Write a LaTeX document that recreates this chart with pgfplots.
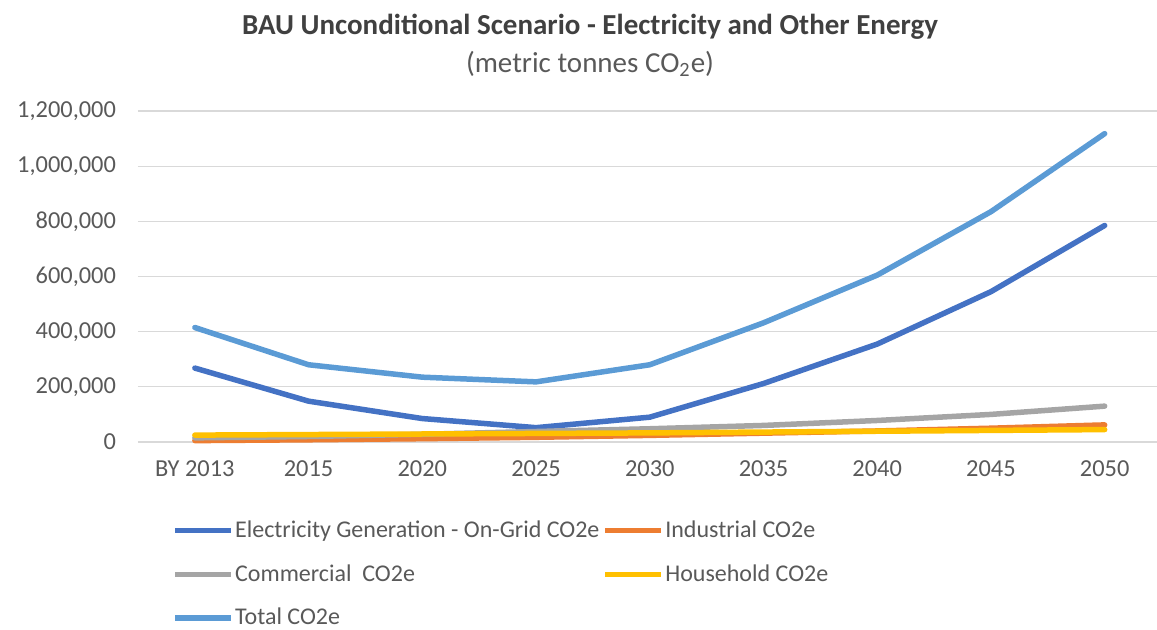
\documentclass[border=0pt]{standalone}
\usepackage{fontspec}
\setmainfont{Carlito}
\usepackage{pgfplots}
\pgfplotsset{compat=1.18}
\usepackage{pgfplotstable}

\definecolor{elec}{HTML}{4472C4}
\definecolor{indus}{HTML}{ED7D31}
\definecolor{comm}{HTML}{A5A5A5}
\definecolor{house}{HTML}{FFC000}
\definecolor{total}{HTML}{5B9BD5}
\definecolor{txt}{HTML}{595959}
\definecolor{gridc}{HTML}{D9D9D9}

% x: 0 = BY 2013, 1 = 2015, ... 8 = 2050
\pgfplotstableread{
x elec indus comm house total
0 268000 5000 15000 25000 415000
1 148000 8000 20000 27000 280000
2 85000 12000 28000 29000 235000
3 52000 17000 38000 31000 218000
4 90000 24000 48000 33000 280000
5 212000 32000 60000 36000 432000
6 355000 40000 78000 39000 605000
7 545000 50000 100000 42000 835000
8 785000 62000 130000 45000 1118000
}\bau

\begin{document}
\begin{tikzpicture}
\begin{axis}[
    scale only axis,
    width=509.5pt, height=165.5pt,
    xmin=-0.5, xmax=8.46,
    ymin=0, ymax=1200000,
    xtick={0,...,8},
    xticklabels={BY 2013,2015,2020,2025,2030,2035,2040,2045,2050},
    ytick={0,200000,...,1200000},
    scaled y ticks=false,
    /pgf/number format/.cd, fixed, 1000 sep={,}, assume math mode=true,
    /pgfplots/.cd,
    ymajorgrids,
    grid style={gridc, line width=0.6pt},
    axis line style={draw=none},
    tick style={draw=none},
    ticklabel style={font=\fontsize{12.2}{14}\selectfont, text=txt},
    yticklabel style={xshift=-7.5pt},
    xticklabel style={yshift=-6pt},
    clip=false,
    every axis plot/.append style={line width=2.75pt, line join=round, line cap=round},
    legend columns=2,
    legend cell align=left,
    legend style={
        at={(0.0334,-0.225)}, anchor=north west,
        draw=none, inner sep=0pt,
        font=\fontsize{12}{14}\selectfont, text=txt,
        nodes={inner xsep=0.6pt},
        row sep=8pt,
        /tikz/every even column/.append style={column sep=1pt},
    },
    legend image code/.code={
        \draw[#1, line cap=butt] (0pt,0pt) -- (28pt,0pt);
    },
]
\coordinate (sw) at (rel axis cs:0,0);
\addplot[elec] table[x=x, y=elec] {\bau};
\addlegendentry{Electricity Generation - On-Grid CO2e}
\addplot[indus] table[x=x, y=indus] {\bau};
\addlegendentry{Industrial CO2e}
\addplot[comm] table[x=x, y=comm] {\bau};
\addlegendentry{Commercial\ \ CO2e}
\addplot[house] table[x=x, y=house] {\bau};
\addlegendentry{Household CO2e}
\addplot[total] table[x=x, y=total] {\bau};
\addlegendentry{Total CO2e}
\end{axis}
\node[font=\bfseries\fontsize{14.5}{17}\selectfont, text=black!75] at ([shift={(226pt,207.5pt)}]sw)
    {BAU Unconditional Scenario - Electricity and Other Energy};
\node[font=\fontsize{14.5}{17}\selectfont, text=txt] at ([shift={(226pt,189pt)}]sw)
    {(metric tonnes CO\textsubscript{2}e)};
\pgfresetboundingbox
\path ([shift={(-69pt,-94pt)}]sw) rectangle ([shift={(509.5pt,221pt)}]sw);
\end{tikzpicture}
\end{document}
